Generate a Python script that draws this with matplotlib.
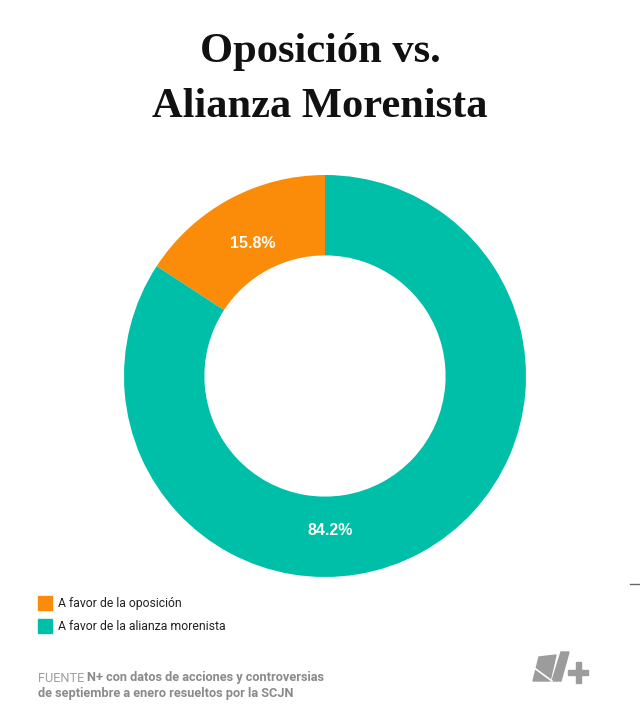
import numpy as np
import matplotlib.pyplot as plt
from matplotlib.patches import Rectangle, Polygon
from matplotlib.lines import Line2D

labels = ["A favor de la oposición", "A favor de la alianza morenista"]
values = [15.8, 84.2]
colors = ["#FA8C0A", "#00BFA8"]
title_lines = ["Oposición vs.", "Alianza Morenista"]

W, H = 640, 714
fig = plt.figure(figsize=(6.4, 7.14), dpi=100)
fig.patch.set_facecolor("white")


def fx(px):
    return px / W


def fy(py):
    return 1 - py / H


# title: fit the second line to the width of the original
title_kw = dict(ha="center", va="baseline", family="Liberation Serif",
                fontweight="bold", color="#111111")
t2 = fig.text(0.5, fy(117), title_lines[1], fontsize=36, **title_kw)
fig.canvas.draw()
w = t2.get_window_extent().width
size = 36 * 336 / w
t2.set_fontsize(size)
fig.text(0.5, fy(62), title_lines[0], fontsize=size, **title_kw)

ax = fig.add_axes([fx(124), fy(577), fx(402), 402 / H])
wedges, _ = ax.pie(values, colors=colors, startangle=90, counterclock=True,
                   radius=1.0, wedgeprops=dict(width=0.4, edgecolor="none"))
ax.set_xlim(-1, 1)
ax.set_ylim(-1, 1)
ax.set_aspect("equal")
ax.axis("off")

# percentage labels (teal one sits near the bottom, as in the original)
label_angles = [np.deg2rad((wedges[0].theta1 + wedges[0].theta2) / 2), np.deg2rad(272)]
for v, a, r in zip(values, label_angles, [0.75, 0.77]):
    ax.text(r * np.cos(a), r * np.sin(a), f"{v}%", ha="center", va="center",
            color="#FFFDF5", fontsize=11.5, fontweight="bold",
            family="Liberation Sans")

# legend
for i, (lab, c) in enumerate(zip(labels, colors)):
    y = 603 + 23 * i
    fig.patches.append(Rectangle((fx(38), fy(y + 7)), fx(14), 14 / H,
                                 transform=fig.transFigure, color=c))
    fig.text(fx(58), fy(y), lab, ha="left", va="center", fontsize=8.8,
             family="Roboto", color="#222222")

# source note
src_color = "#8a8a8a"
t = fig.text(fx(38), fy(678), "FUENTE ", ha="left", va="center",
             fontsize=9.2, family="Roboto", color="#a0a0a0")
fig.canvas.draw()
bb = t.get_window_extent()
fig.text(bb.x1 / W, fy(678), "N+ con datos de acciones y controversias",
         ha="left", va="center", fontsize=9.2, family="Roboto",
         fontweight="bold", color=src_color)
fig.text(fx(38), fy(694), "de septiembre a enero resueltos por la SCJN",
         ha="left", va="center", fontsize=9.2, family="Roboto",
         fontweight="bold", color=src_color)

# N+ logo
logo = "#9c9c9c"
def pts(seq):
    return [(x, H - y) for x, y in seq]

fig.add_artist(Polygon(pts([(533, 681), (539, 657), (556, 655), (550, 681)]),
                       closed=True, color=logo, transform=None))
fig.add_artist(Polygon(pts([(552, 681), (561, 652), (569, 652), (561, 681)]),
                       closed=True, color=logo, transform=None))
fig.add_artist(Line2D([533, 552], [H - 667, H - 681], color="white",
                      linewidth=1.2, transform=None))
fig.add_artist(Rectangle((568, H - 675), 20, 5, color=logo, transform=None))
fig.add_artist(Rectangle((575.5, H - 683), 5, 21, color=logo, transform=None))

# small tick at the right edge
fig.add_artist(Line2D([630, 640], [H - 584, H - 584], color="#666666",
                      linewidth=1.0, transform=None))

fig.savefig("out.png", dpi=100)
